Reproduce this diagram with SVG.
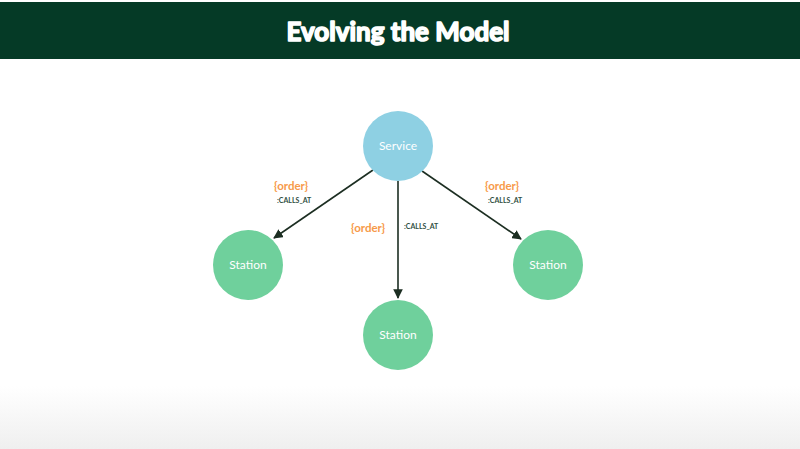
<svg xmlns="http://www.w3.org/2000/svg" width="800" height="449" viewBox="0 0 800 449">
<style>
.st{fill:#6fd09c}
.nt{font-family:Lato,"Liberation Sans",sans-serif;font-size:12px;fill:#fff;text-anchor:middle}
.ord{font-family:Lato,"Liberation Sans",sans-serif;font-size:11.5px;font-weight:bold;fill:#f79a4a}
.rel{font-family:Lato,"Liberation Sans",sans-serif;font-size:7px;font-weight:bold;fill:#2f4f3f}
.e{stroke:#1c2e22;stroke-width:1.6;fill:none;marker-end:url(#a)}
</style>
<defs>
<marker id="a" viewBox="0 0 10 10" refX="9" refY="5" markerWidth="6" markerHeight="6" orient="auto"><path d="M0,0L10,5L0,10z" fill="#1c2e22"/></marker>
<linearGradient id="bg" x1="0" y1="0" x2="0" y2="1"><stop offset="0.86" stop-color="#fff"/><stop offset="1" stop-color="#efefef"/></linearGradient>
</defs>
<rect width="800" height="449" fill="url(#bg)"/>
<rect x="0" y="2" width="800" height="57" fill="#053a26"/>
<text x="398" y="41" font-family="Lato,'Liberation Sans',sans-serif" font-size="26" font-weight="bold" fill="#fff" text-anchor="middle" stroke="#fff" stroke-width="1.6" stroke-linejoin="round">Evolving the Model</text>
<g id="edges">
<line class="e" x1="373" y1="170" x2="274" y2="238"/>
<line class="e" x1="398" y1="181" x2="398" y2="298"/>
<line class="e" x1="422" y1="171" x2="521" y2="239"/>
<text class="ord" x="274" y="190">{order}</text><text class="rel" x="277" y="203">:CALLS_AT</text>
<text class="ord" x="351" y="232">{order}</text><text class="rel" x="404" y="229">:CALLS_AT</text>
<text class="ord" x="485" y="190">{order}</text><text class="rel" x="488" y="203">:CALLS_AT</text>
</g>
<g id="service"><circle cx="398" cy="146" r="35" fill="#8ed0e3"/><text class="nt" x="398" y="150">Service</text></g>
<g id="station1"><circle class="st" cx="248" cy="265" r="35"/><text class="nt" x="248" y="269">Station</text></g>
<g id="station2"><circle class="st" cx="398" cy="335" r="35"/><text class="nt" x="398" y="339">Station</text></g>
<g id="station3"><circle class="st" cx="548" cy="265" r="35"/><text class="nt" x="548" y="269">Station</text></g>
</svg>
